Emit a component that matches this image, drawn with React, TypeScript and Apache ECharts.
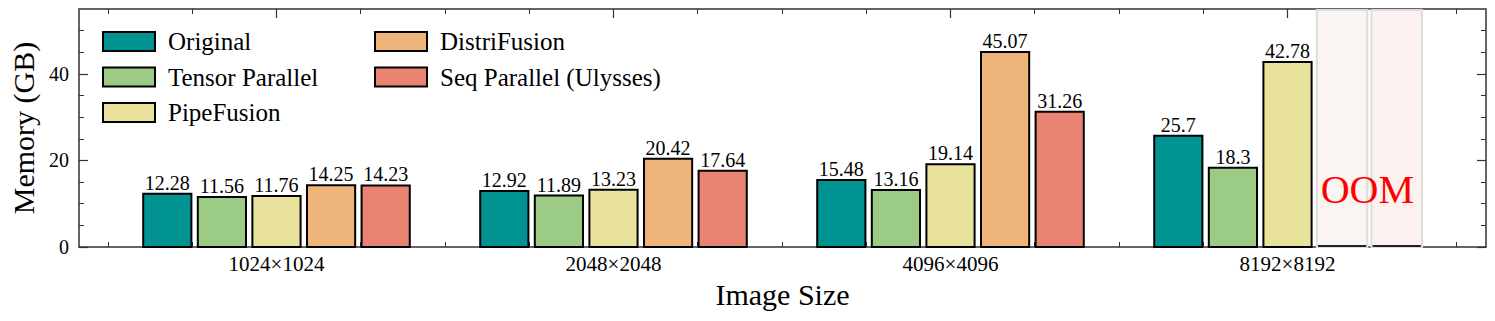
import React, { useEffect, useRef } from "react";
import * as echarts from "echarts";

const categories = ["1024×1024", "2048×2048", "4096×4096", "8192×8192"];
const seriesNames = ["Original", "Tensor Parallel", "PipeFusion", "DistriFusion", "Seq Parallel (Ulysses)"];
const original = [12.28, 12.92, 15.48, 25.7];
const tensorParallel = [11.56, 11.89, 13.16, 18.3];
const pipeFusion = [11.76, 13.23, 19.14, 42.78];
const distriFusion: (number | null)[] = [14.25, 20.42, 45.07, null];
const seqParallel: (number | null)[] = [14.23, 17.64, 31.26, null];
const seriesValues = [original, tensorParallel, pipeFusion, distriFusion, seqParallel];
const colors = ["#009392", "#9ccb86", "#e9e29c", "#eeb479", "#e88471"];
const shadeColors = ["#f6fbfb", "#f9fcf8", "#fdfcf6", "#faf5f0", "#fbf1ee"];
const yMajorTicks = [0, 20, 40];
const yMinorTicks = [5, 10, 15, 25, 30, 35, 45, 50];
const xMajorTicks = [0, 1, 2, 3];
const xMinorTicks = [-0.5, -0.25, 0.25, 0.5, 0.75, 1.25, 1.5, 1.75, 2.25, 2.5, 2.75, 3.25, 3.5];
const oomText = "OOM";

const FONT = '"Liberation Serif", "Times New Roman", serif';
const Y_MAX = 55;
const X_MIN = -0.586;
const X_MAX = 3.589;
const STEP = 0.162;
const BAR_W = 0.143;
const SHADE_W = 0.15;

export default function App() {
  const ref = useRef<HTMLDivElement>(null);
  useEffect(() => {
    if (!ref.current) return;
    const chart = echarts.init(ref.current, null, { renderer: "svg" });
    const tickColor = "#333";
    const baseX = {
      type: "value" as const,
      min: X_MIN,
      max: X_MAX,
      splitLine: { show: false },
      axisLine: { show: false, onZero: false },
    };
    const baseY = {
      type: "value" as const,
      min: 0,
      max: Y_MAX,
      splitLine: { show: false },
      axisLine: { show: false, onZero: false },
    };
    const series = seriesValues.map((vals, si) => ({
      type: "custom" as const,
      name: seriesNames[si],
      itemStyle: { color: colors[si], borderColor: "#000", borderWidth: 2 },
      xAxisIndex: 0,
      yAxisIndex: 0,
      data: vals.map((v, gi) => (v === null ? [gi, 0, 1] : [gi, v, 0])),
      renderItem: (params: any, api: any) => {
        const gi = api.value(0);
        const v = api.value(1);
        const oom = api.value(2) === 1;
        const cx = gi + (si - 2) * STEP;
        if (oom) {
          const tl = api.coord([cx - SHADE_W / 2, Y_MAX]);
          const br = api.coord([cx + SHADE_W / 2, 0]);
          const children: any[] = [
            {
              type: "rect",
              shape: { x: tl[0], y: tl[1] + 1, width: br[0] - tl[0], height: br[1] - tl[1] - 1 },
              style: { fill: shadeColors[si], stroke: "#dcdcdc", lineWidth: 2 },
            },
            {
              type: "line",
              shape: {
                x1: api.coord([cx - BAR_W / 2, 0])[0],
                y1: br[1] - 1,
                x2: api.coord([cx + BAR_W / 2, 0])[0],
                y2: br[1] - 1,
              },
              style: { stroke: "#222", lineWidth: 2 },
            },
          ];
          if (si === 3) {
            const p = api.coord([gi + 1.5 * STEP, 13.2]);
            children.push({
              type: "text",
              z2: 10,
              style: {
                text: oomText,
                x: p[0] - 2,
                y: p[1],
                fill: "#ff0000",
                fontSize: 40,
                fontFamily: FONT,
                align: "center",
                verticalAlign: "middle",
              },
            });
          }
          return { type: "group", children };
        }
        const tl = api.coord([cx - BAR_W / 2, v]);
        const br = api.coord([cx + BAR_W / 2, 0]);
        return {
          type: "group",
          children: [
            {
              type: "rect",
              shape: { x: tl[0], y: tl[1], width: br[0] - tl[0], height: br[1] - tl[1] },
              style: { fill: colors[si], stroke: "#000", lineWidth: 2 },
            },
            {
              type: "text",
              style: {
                text: String(v),
                x: (tl[0] + br[0]) / 2,
                y: tl[1] - 1,
                fill: "#000",
                fontSize: 20,
                fontFamily: FONT,
                align: "center",
                verticalAlign: "bottom",
              },
            },
          ],
        };
      },
    }));
    const legendCommon = {
      orient: "vertical" as const,
      top: 24,
      itemWidth: 52,
      itemHeight: 19,
      itemGap: 10.5,
      icon: "rect",
      selectedMode: false,
      itemStyle: { borderColor: "#000", borderWidth: 2 },
      textStyle: { fontSize: 25, fontFamily: FONT, color: "#000", padding: [0, 0, 0, 8], lineHeight: 25 },
    };
    chart.setOption({
      animation: false,
      textStyle: { fontFamily: FONT },
      grid: { left: 75, right: 9, top: 9, bottom: 74, show: true, borderColor: "#333", borderWidth: 1.5, containLabel: false },
      legend: [
        { ...legendCommon, left: 97, data: seriesNames.slice(0, 3) },
        { ...legendCommon, left: 369, data: seriesNames.slice(3) },
      ],
      xAxis: [
        {
          ...baseX,
          position: "bottom",
          axisTick: { show: true, inside: true, length: 9, customValues: xMajorTicks, lineStyle: { color: tickColor, width: 1.2 } },
          axisLabel: {
            customValues: xMajorTicks,
            formatter: (v: number) => categories[Math.round(v)] ?? "",
            fontSize: 21,
            fontFamily: FONT,
            color: "#000",
            margin: 6,
          },
          name: "Image Size",
          nameLocation: "middle",
          nameGap: 32,
          nameTextStyle: { fontSize: 30, fontFamily: FONT, color: "#000" },
        },
        {
          ...baseX,
          position: "bottom",
          axisTick: { show: true, inside: true, length: 5, customValues: xMinorTicks, lineStyle: { color: tickColor, width: 1 } },
          axisLabel: { show: false },
        },
        {
          ...baseX,
          position: "top",
          axisTick: { show: true, inside: true, length: 9, customValues: xMajorTicks, lineStyle: { color: tickColor, width: 1.2 } },
          axisLabel: { show: false },
        },
        {
          ...baseX,
          position: "top",
          axisTick: { show: true, inside: true, length: 5, customValues: xMinorTicks, lineStyle: { color: tickColor, width: 1 } },
          axisLabel: { show: false },
        },
      ],
      yAxis: [
        {
          ...baseY,
          position: "left",
          axisTick: { show: true, inside: true, length: 9, customValues: yMajorTicks, lineStyle: { color: tickColor, width: 1.2 } },
          axisLabel: { customValues: yMajorTicks, fontSize: 20, fontFamily: FONT, color: "#000", margin: 10 },
          name: "Memory (GB)",
          nameLocation: "middle",
          nameGap: 41,
          nameTextStyle: { fontSize: 30, fontFamily: FONT, color: "#000" },
        },
        {
          ...baseY,
          position: "left",
          axisTick: { show: true, inside: true, length: 5, customValues: yMinorTicks, lineStyle: { color: tickColor, width: 1 } },
          axisLabel: { show: false },
        },
        {
          ...baseY,
          position: "right",
          axisTick: { show: true, inside: true, length: 9, customValues: yMajorTicks, lineStyle: { color: tickColor, width: 1.2 } },
          axisLabel: { show: false },
        },
        {
          ...baseY,
          position: "right",
          axisTick: { show: true, inside: true, length: 5, customValues: yMinorTicks, lineStyle: { color: tickColor, width: 1 } },
          axisLabel: { show: false },
        },
      ],
      series,
    });
    return () => chart.dispose();
  }, []);
  return <div ref={ref} style={{ position: "absolute", left: 0, top: 0, width: 1495, height: 321 }} />;
}
